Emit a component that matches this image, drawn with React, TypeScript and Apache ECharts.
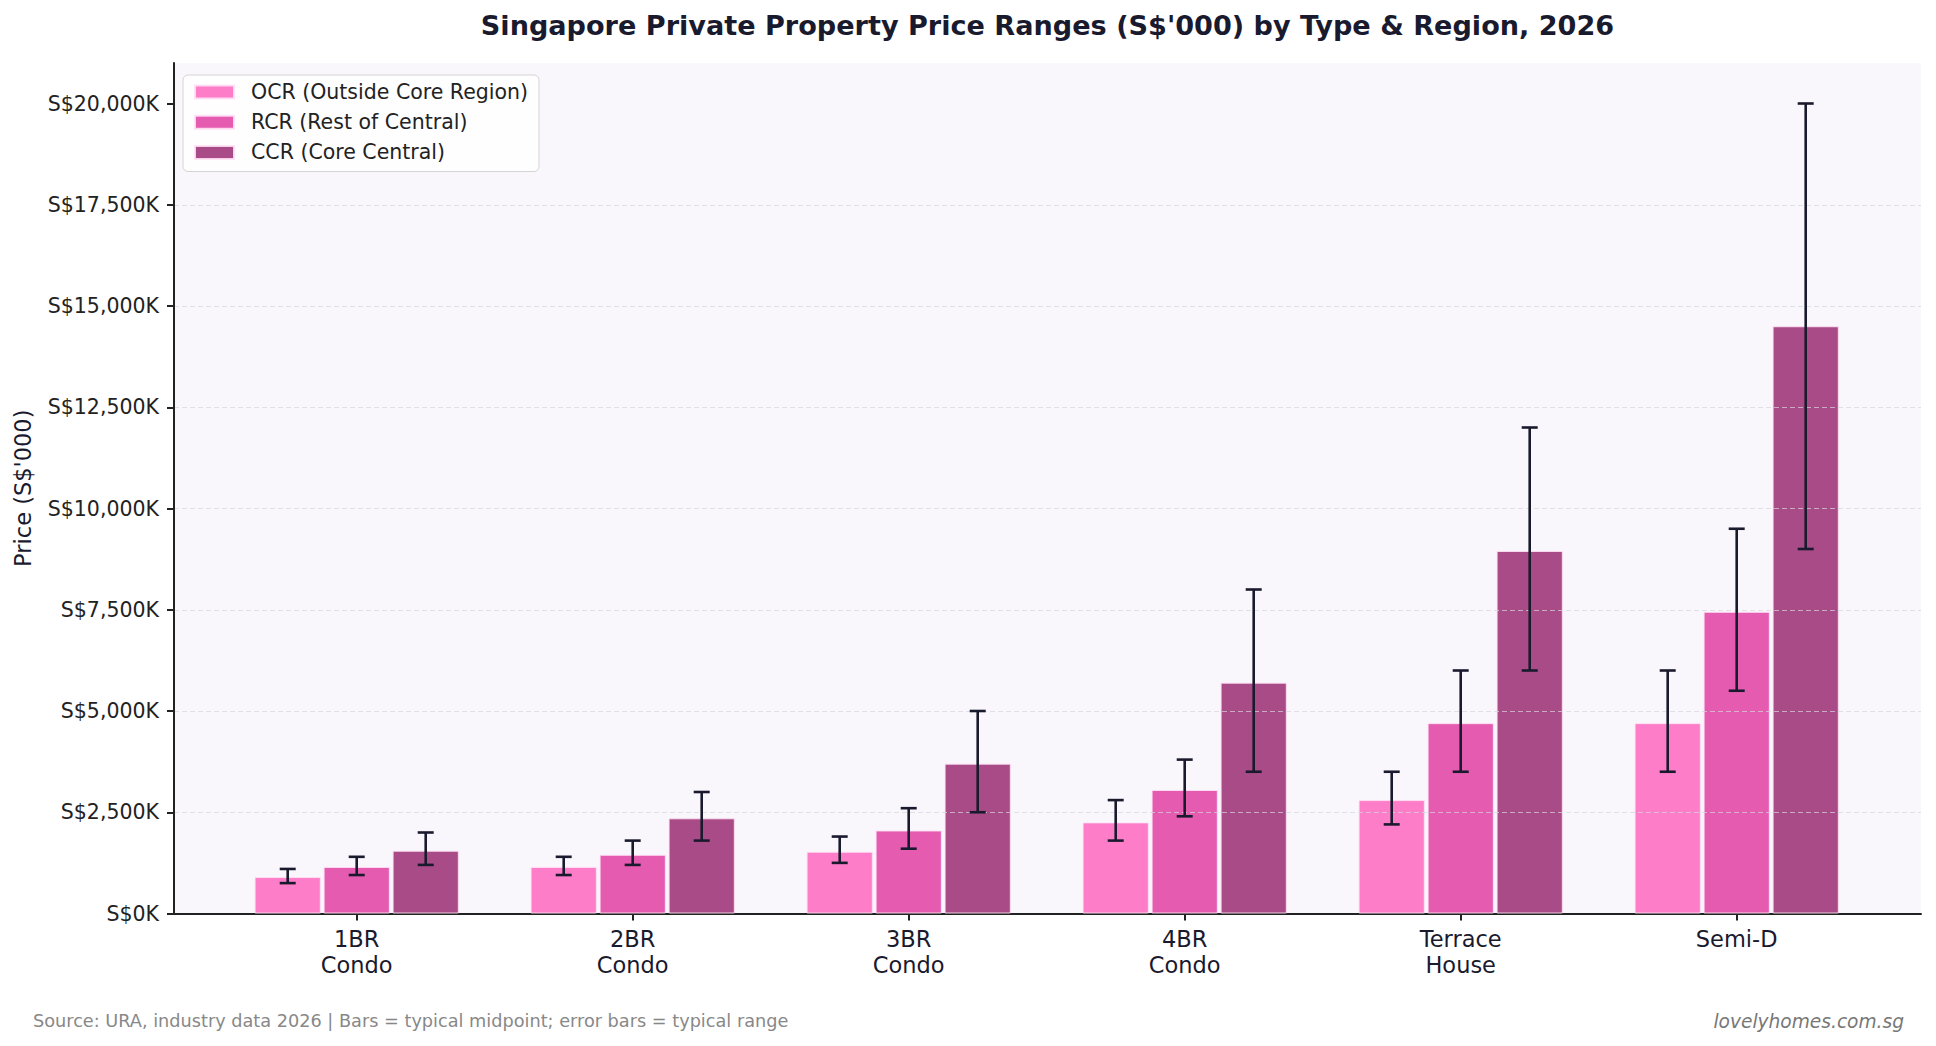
import React, { useEffect, useRef } from 'react'
import * as echarts from 'echarts'

// property types (x axis)
const categories = ['1BR\nCondo', '2BR\nCondo', '3BR\nCondo', '4BR\nCondo', 'Terrace\nHouse', 'Semi-D']
const regions = ['OCR (Outside Core Region)', 'RCR (Rest of Central)', 'CCR (Core Central)']
const regionColors = ['#fd7dc8', '#e55bb0', '#a84b87']

// typical midpoint, S$'000
const ocrMid = [900, 1150, 1525, 2250, 2800, 4700]
const rcrMid = [1150, 1450, 2050, 3050, 4700, 7450]
const ccrMid = [1550, 2350, 3700, 5700, 8950, 14500]

// typical range, S$'000
const ocrLow = [750, 950, 1250, 1800, 2200, 3500]
const ocrHigh = [1100, 1400, 1900, 2800, 3500, 6000]
const rcrLow = [950, 1200, 1600, 2400, 3500, 5500]
const rcrHigh = [1400, 1800, 2600, 3800, 6000, 9500]
const ccrLow = [1200, 1800, 2500, 3500, 6000, 9000]
const ccrHigh = [2000, 3000, 5000, 8000, 12000, 20000]

const yTicks = [0, 2500, 5000, 7500, 10000, 12500, 15000, 17500, 20000]

const FONT = 'DejaVu Sans'
const DARK = '#1a1a2e'

const App: React.FC = () => {
  const chartRef = useRef<HTMLDivElement>(null)

  useEffect(() => {
    if (!chartRef.current) return
    const chart = echarts.init(chartRef.current, null, { renderer: 'svg' })

    const mids = [ocrMid, rcrMid, ccrMid]
    const lows = [ocrLow, rcrLow, ccrLow]
    const highs = [ocrHigh, rcrHigh, ccrHigh]

    const rangeData: number[][] = []
    lows.forEach((lo, k) => {
      lo.forEach((v, i) => rangeData.push([i, v, highs[k][i], k]))
    })

    const fmt = (v: number) => 'S$' + v.toLocaleString('en-US') + 'K'

    const option = {
      animation: false,
      backgroundColor: '#ffffff',
      textStyle: { fontFamily: FONT },
      grid: [
        // axes frame: background, spines, y ticks
        { left: 174, right: 15, top: 63, bottom: 132.5, show: true, backgroundColor: '#f9f7fb', borderWidth: 0 },
        // bar area, band width matches the reference spacing
        { left: 218.7, right: 61.3, top: 63, bottom: 132.5 }
      ],
      legend: {
        data: regions,
        orient: 'vertical',
        left: 183,
        top: 75,
        itemWidth: 39,
        itemHeight: 13,
        itemGap: 9.2,
        icon: 'rect',
        padding: [6.5, 11, 8.6, 11],
        backgroundColor: 'rgba(255,255,255,0.85)',
        borderColor: '#d4d4d4',
        borderWidth: 1,
        borderRadius: 5,
        textStyle: { fontSize: 20.5, color: '#222', fontFamily: FONT, padding: [0, 0, 0, 12] }
      },
      xAxis: [
        {
          type: 'value', gridIndex: 0, min: 0, max: 1,
          axisLine: { show: true, lineStyle: { color: '#222', width: 2 } },
          axisTick: { show: false }, axisLabel: { show: false }, splitLine: { show: false }
        },
        {
          type: 'category', gridIndex: 1, data: categories,
          axisLine: { show: false },
          axisTick: { show: true, alignWithLabel: true, length: 7, lineStyle: { color: '#222', width: 2 } },
          axisLabel: { fontSize: 22.5, color: DARK, lineHeight: 26, margin: 12, fontFamily: FONT }
        }
      ],
      yAxis: [
        {
          type: 'value', gridIndex: 0, min: 0, max: 21000, interval: 2500, z: 3,
          name: "Price (S$'000)",
          nameLocation: 'middle',
          nameGap: 140,
          nameTextStyle: { fontSize: 22.5, color: DARK, fontFamily: FONT },
          axisLine: { show: true, lineStyle: { color: '#222', width: 2 } },
          axisTick: { show: true, length: 7, lineStyle: { color: '#222', width: 2 }, customValues: yTicks },
          axisLabel: { fontSize: 20.5, color: '#222', margin: 15, formatter: fmt, customValues: yTicks, fontFamily: FONT },
          splitLine: {
            show: true, showMaxLine: false, showMinLine: false,
            lineStyle: { color: 'rgba(215,213,222,0.7)', type: [5, 3], width: 1.2 }
          }
        },
        { type: 'value', gridIndex: 1, min: 0, max: 21000, show: false, splitLine: { show: false } }
      ],
      series: [
        ...regions.map((name, k) => ({
          name,
          type: 'bar',
          xAxisIndex: 1,
          yAxisIndex: 1,
          barWidth: '24%',
          barGap: '4.17%',
          z: 2,
          itemStyle: { color: regionColors[k], borderColor: 'rgba(255,225,245,0.9)', borderWidth: 1 },
          data: mids[k]
        })),
        {
          name: 'Typical range',
          type: 'custom',
          xAxisIndex: 1,
          yAxisIndex: 1,
          z: 5,
          encode: { x: 0, y: [1, 2] },
          data: rangeData,
          renderItem: (params: any, api: any) => {
            const cat = api.value(0)
            const band = api.size([1, 0])[0]
            const lo = api.coord([cat, api.value(1)])
            const hi = api.coord([cat, api.value(2)])
            const x = lo[0] + (api.value(3) - 1) * 0.25 * band
            const cap = 8
            const style = { stroke: DARK, lineWidth: 2.6 }
            return {
              type: 'group',
              children: [
                { type: 'line', shape: { x1: x, y1: lo[1], x2: x, y2: hi[1] }, style },
                { type: 'line', shape: { x1: x - cap, y1: lo[1], x2: x + cap, y2: lo[1] }, style },
                { type: 'line', shape: { x1: x - cap, y1: hi[1], x2: x + cap, y2: hi[1] }, style }
              ]
            }
          }
        }
      ],
      graphic: [
        {
          type: 'text', x: 1047.5, y: 25,
          style: {
            text: "Singapore Private Property Price Ranges (S$'000) by Type & Region, 2026",
            fontSize: 27.1, fontWeight: 'bold', fill: DARK, fontFamily: FONT,
            textAlign: 'center', textVerticalAlign: 'middle'
          }
        },
        {
          type: 'text', x: 33, y: 1021,
          style: {
            text: 'Source: URA, industry data 2026 | Bars = typical midpoint; error bars = typical range',
            fontSize: 17.7, fill: '#888888', fontFamily: FONT, textVerticalAlign: 'middle'
          }
        },
        {
          type: 'text', x: 1904, y: 1021,
          style: {
            text: 'lovelyhomes.com.sg',
            fontSize: 18.6, fontStyle: 'italic', fill: '#777777', fontFamily: FONT,
            textAlign: 'right', textVerticalAlign: 'middle'
          }
        }
      ]
    }

    chart.setOption(option)

    return () => {
      chart.dispose()
    }
  }, [])

  return (
    <div
      ref={chartRef}
      style={{ position: 'absolute', left: 0, top: 0, width: 1936, height: 1046 }}
    />
  )
}

export default App
